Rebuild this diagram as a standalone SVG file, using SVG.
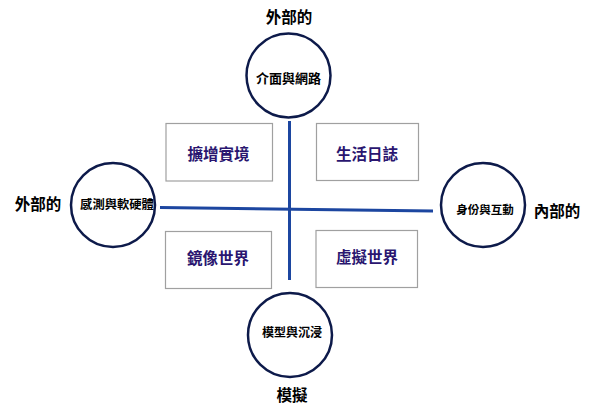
<svg xmlns="http://www.w3.org/2000/svg" width="600" height="414" viewBox="0 0 600 414">
<style>
text{font-family:"Liberation Serif","Noto Sans CJK TC",serif;font-weight:bold;text-anchor:middle;dominant-baseline:central}
.axis{font-size:15.5px;fill:#000}
.cl{font-size:12px;fill:#000}
.ql{font-size:15.5px;fill:#2a1670}
.circ{fill:#fff;stroke:#0d1a4a;stroke-width:2.5}
.quad{fill:#fff;stroke:#a0a0a0;stroke-width:1.2}
.ln{stroke:#1c46a0;stroke-width:3;fill:none}
</style>
<rect width="600" height="414" fill="#fff"/>
<g id="connectors">
<line class="ln" x1="289.5" y1="121" x2="289.5" y2="280"/>
<line class="ln" x1="160" y1="207.5" x2="433" y2="211"/>
</g>
<g id="q-ar"><rect class="quad" x="166" y="123.5" width="106.5" height="57.5"/><text class="ql" x="218.5" y="154">擴增實境</text></g>
<g id="q-lifelog"><rect class="quad" x="316.5" y="123.5" width="102" height="57"/><text class="ql" x="367" y="154">生活日誌</text></g>
<g id="q-mirror"><rect class="quad" x="165.5" y="231.5" width="106" height="57"/><text class="ql" x="218" y="258">鏡像世界</text></g>
<g id="q-virtual"><rect class="quad" x="316" y="230.5" width="101.5" height="57"/><text class="ql" x="367" y="257">虛擬世界</text></g>
<g id="n-top"><circle class="circ" cx="288.5" cy="75.5" r="42"/><text class="cl" x="288.5" y="78" style="font-size:13px">介面與網路</text></g>
<g id="n-left"><circle class="circ" cx="113" cy="205" r="42"/><text class="cl" x="117" y="205" style="font-size:12.3px">感測與軟硬體</text></g>
<g id="n-right"><circle class="circ" cx="483" cy="205" r="42"/><text class="cl" x="485" y="210" style="font-size:11.5px">身份與互動</text></g>
<g id="n-bottom"><circle class="circ" cx="290" cy="335" r="42"/><text class="cl" x="292" y="333">模型與沉浸</text></g>
<g id="axis-labels">
<text class="axis" x="289" y="17">外部的</text>
<text class="axis" x="38" y="204">外部的</text>
<text class="axis" x="557" y="211">內部的</text>
<text class="axis" x="292" y="395">模擬</text>
</g>
</svg>
